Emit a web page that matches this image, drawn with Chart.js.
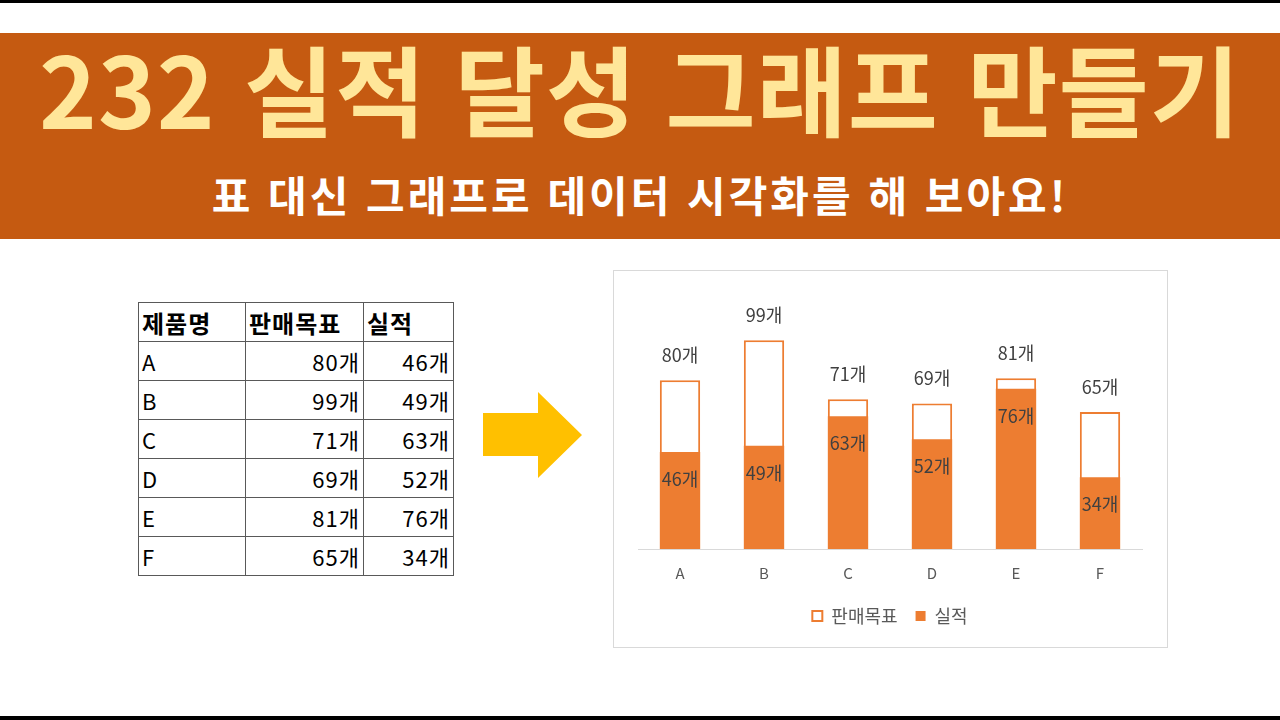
<!DOCTYPE html>
<html lang="ko">
<head>
<meta charset="utf-8">
<script src="https://cdn.jsdelivr.net/npm/chart.js@4"></script>
<style>
  body { margin: 0; width: 1280px; height: 720px; background: #fff; position: relative; overflow: hidden;
         font-family: "Noto Sans CJK KR", "Noto Sans", sans-serif; }
  .topbar { position: absolute; left: 0; top: 0; width: 1280px; height: 3px; background: #000; }
  .botbar { position: absolute; left: 0; top: 716px; width: 1280px; height: 4px; background: #000; }
  .banner { position: absolute; left: 0; top: 33px; width: 1280px; height: 206px; background: #c55a11; }
  .title { position: absolute; left: 0; width: 1280px; top: 26px; text-align: center; color: #ffe699;
           font-size: 98px; font-weight: bold; line-height: 120px; letter-spacing: 1px; }
  .sub { position: absolute; left: 0; width: 1280px; top: 166px; text-align: center; color: #fff;
         font-size: 42px; font-weight: bold; line-height: 56px; letter-spacing: 3px; }
  table { position: absolute; left: 138px; top: 302px; border-collapse: collapse; color: #000; }
  td { border: 1px solid #595959; height: 38px; padding: 0 3px; line-height: 38px; font-size: 22px; letter-spacing: 1px; }
  td.num { text-align: right; }
  th { border: 1px solid #595959; height: 38px; padding: 0 3px; text-align: left; font-weight: bold; font-size: 24px; letter-spacing: 1px; }
  .arrow { position: absolute; left: 483px; top: 392px; }
  .frame { position: absolute; left: 613px; top: 270px; width: 553px; height: 376px; border: 1px solid #d9d9d9; }
</style>
</head>
<body>
<div class="topbar"></div>
<div class="banner"></div>
<div class="title">232 실적 달성 그래프 만들기</div>
<div class="sub">표 대신 그래프로 데이터 시각화를 해 보아요!</div>
<table id="tbl"></table>
<svg class="arrow" width="100" height="88"><polygon points="0,21 55,21 55,0 99,43 55,86 55,64 0,64" fill="#ffc000"/></svg>
<div class="frame"><canvas id="myChart" width="553" height="376"></canvas></div>
<div class="botbar"></div>
<script>
const products = ['A', 'B', 'C', 'D', 'E', 'F'];
const targets = [80, 99, 71, 69, 81, 65];
const actuals = [46, 49, 63, 52, 76, 34];
const headers = ['제품명', '판매목표', '실적'];
const unit = '개';

// table on the left
const tbl = document.getElementById('tbl');
let html = '<tr><th style="width:100px">' + headers[0] + '</th><th style="width:111px">' + headers[1] + '</th><th style="width:83px">' + headers[2] + '</th></tr>';
products.forEach((p, i) => {
  html += '<tr><td>' + p + '</td><td class="num">' + targets[i] + unit + '</td><td class="num">' + actuals[i] + unit + '</td></tr>';
});
tbl.innerHTML = html;

const orange = '#ed7d31';
const labelFont = '18px "Noto Sans CJK KR"';

// value labels: target above its bar, actual inside near the top
const valueLabels = {
  id: 'valueLabels',
  afterDatasetsDraw(chart) {
    const c = chart.ctx;
    c.save();
    c.font = labelFont;
    c.textAlign = 'center';
    c.textBaseline = 'middle';
    c.fillStyle = '#404040';
    chart.data.datasets.forEach((ds, di) => {
      const meta = chart.getDatasetMeta(di);
      meta.data.forEach((bar, i) => {
        const txt = ds.data[i] + unit;
        if (di === 0) c.fillText(txt, bar.x, bar.y - 25);
        else c.fillText(txt, bar.x, bar.y + 27);
      });
    });
    c.restore();
  }
};

new Chart(document.getElementById('myChart'), {
  type: 'bar',
  data: {
    labels: products,
    datasets: [
      { label: headers[1], data: targets, backgroundColor: '#ffffff', borderColor: orange, borderWidth: 2, order: 1 },
      { label: headers[2], data: actuals, backgroundColor: orange, borderColor: orange, borderWidth: 0, order: 0 }
    ]
  },
  options: {
    responsive: false,
    animation: false,
    grouped: false,
    categoryPercentage: 1,
    barPercentage: 0.48,
    layout: { padding: { left: 24, right: 25, top: 25, bottom: 12 } },
    scales: {
      x: {
        grid: { display: false },
        border: { color: '#d9d9d9', width: 1 },
        ticks: { color: '#595959', font: { size: 15, family: '"Noto Sans CJK KR"' }, padding: 7 }
      },
      y: { display: false, min: 0, max: 120 }
    },
    plugins: {
      legend: {
        position: 'bottom',
        labels: {
          color: '#595959',
          font: { size: 18, family: '"Noto Sans CJK KR"' },
          boxWidth: 10, boxHeight: 10, padding: 18,
          sort: (a, b) => a.datasetIndex - b.datasetIndex
        }
      },
      tooltip: { enabled: false }
    }
  },
  plugins: [valueLabels]
});
</script>
</body>
</html>
